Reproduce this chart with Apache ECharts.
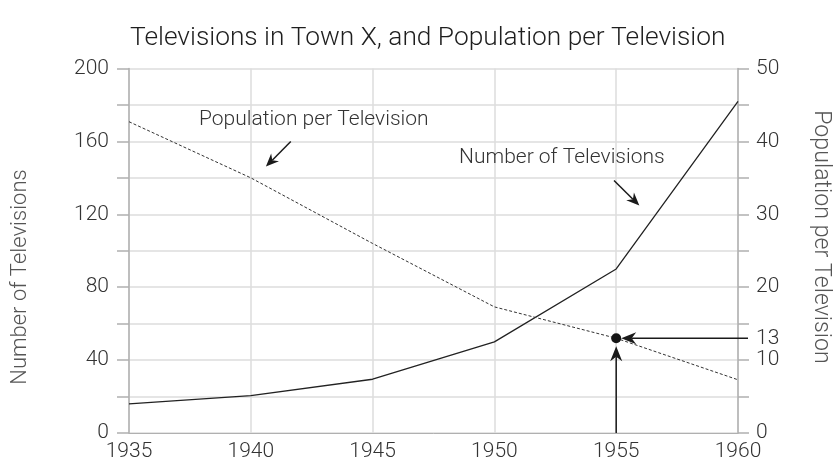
<!DOCTYPE html>
<html>
<head>
<meta charset="utf-8">
<script src="https://cdn.jsdelivr.net/npm/echarts@6/dist/echarts.min.js"></script>
<style>
  html, body { margin: 0; padding: 0; background: #fff; }
  #chart { width: 837px; height: 464px; }
</style>
</head>
<body>
<div id="chart"></div>
<script>
// Years on the horizontal axis
const years = [1935, 1940, 1945, 1950, 1955, 1960];
// Number of televisions (left axis)
const televisions = [16, 20.5, 29.5, 50, 90, 182];
// Population per television (right axis)
const popPerTv = [42.7, 35, 26, 17.3, 13, 7.3];
// Highlighted reading
const markYear = 1955;
const markValue = 13;

const FONT = 'Roboto, "Noto Sans", sans-serif';
const W = 300;
const TEXT = '#333';
const GRID = '#dcdcdc';
const AXIS = '#b0b0b0';

const chart = echarts.init(document.getElementById('chart'));

chart.setOption({
  animation: false,
  backgroundColor: '#fff',
  title: {
    text: 'Televisions in Town X, and Population per Television',
    left: 125,
    top: 20,
    textStyle: { fontFamily: FONT, fontSize: 26.3, fontWeight: W, color: '#1e1e1e' }
  },
  grid: { left: 129, right: 99, top: 68.5, bottom: 31 },
  xAxis: {
    type: 'value',
    min: 1935, max: 1960, interval: 5,
    axisLine: { show: true, lineStyle: { color: AXIS, width: 1 } },
    axisTick: { show: false },
    splitLine: { show: true, lineStyle: { color: GRID, width: 1.5 } },
    axisLabel: { fontFamily: FONT, fontSize: 21, fontWeight: W, color: TEXT, margin: 8, formatter: v => String(v) }
  },
  yAxis: [
    {
      type: 'value',
      min: 0, max: 200, interval: 20,
      axisLine: { show: true, lineStyle: { color: AXIS, width: 1.5 } },
      axisTick: { show: true, length: 12, lineStyle: { color: AXIS, width: 1.5 } },
      splitLine: { show: true, lineStyle: { color: GRID, width: 1.5 } },
      axisLabel: {
        fontFamily: FONT, fontSize: 21, fontWeight: W, color: TEXT, margin: 20,
        formatter: v => (v % 40 === 0 ? String(v) : '')
      }
    },
    {
      type: 'value',
      min: 0, max: 50, interval: 5,
      position: 'right',
      axisLine: { show: true, lineStyle: { color: AXIS, width: 1.5 } },
      axisTick: { show: true, length: 11, lineStyle: { color: AXIS, width: 1.5 } },
      splitLine: { show: false },
      axisLabel: {
        fontFamily: FONT, fontSize: 21, fontWeight: W, color: TEXT, margin: 18,
        formatter: v => (v % 10 === 0 ? String(v) : '')
      }
    }
  ],
  series: [
    {
      name: 'Number of Televisions',
      type: 'line',
      yAxisIndex: 0,
      data: years.map((y, i) => [y, televisions[i]]),
      symbol: 'none',
      lineStyle: { color: '#222', width: 1.3 },
      z: 3
    },
    {
      name: 'Population per Television',
      type: 'line',
      yAxisIndex: 1,
      data: years.map((y, i) => [y, popPerTv[i]]),
      symbol: 'none',
      lineStyle: { color: '#333', width: 1, type: [3, 2] },
      z: 3
    },
    {
      name: 'reading',
      type: 'scatter',
      yAxisIndex: 1,
      data: [[markYear, markValue]],
      symbol: 'circle',
      symbolSize: 10,
      itemStyle: { color: '#151515', opacity: 1 },
      z: 5
    }
  ]
});

// Build an arrow (shaft + notched head) between two pixel points
function arrow(x1, y1, x2, y2, opts) {
  const o = Object.assign({ len: 15, half: 6, notch: 4.5, width: 1.5, color: '#1a1a1a' }, opts || {});
  const dx = x2 - x1, dy = y2 - y1;
  const d = Math.hypot(dx, dy);
  const ux = dx / d, uy = dy / d;
  const px = -uy, py = ux;
  const bx = x2 - ux * o.len, by = y2 - uy * o.len;
  const nx = x2 - ux * (o.len - o.notch), ny = y2 - uy * (o.len - o.notch);
  return [
    { type: 'line', shape: { x1: x1, y1: y1, x2: nx, y2: ny }, style: { stroke: o.color, lineWidth: o.width }, z: 10 },
    { type: 'polygon', shape: { points: [[x2, y2], [bx + px * o.half, by + py * o.half], [nx, ny], [bx - px * o.half, by - py * o.half]] }, style: { fill: o.color }, z: 10 }
  ];
}

const pt = (x, y, axis) => chart.convertToPixel({ xAxisIndex: 0, yAxisIndex: axis }, [x, y]);

function label(text, at, size, opts) {
  const o = Object.assign({ align: 'left', color: TEXT, rotation: 0 }, opts || {});
  return {
    type: 'text', x: at[0], y: at[1], rotation: o.rotation, z: 10,
    style: {
      text: text, fontFamily: FONT, fontSize: size, fontWeight: W, fill: o.color,
      align: o.align, verticalAlign: 'middle',
      textAlign: o.align, textVerticalAlign: 'middle'
    }
  };
}

const dot = pt(markYear, markValue, 1);
const base = pt(markYear, 0, 1);
const rightEdge = pt(1960, markValue, 1);

const elements = [];
// Axis titles
elements.push(label('Number of Televisions', [20, 277], 22, { align: 'center', color: '#555', rotation: Math.PI / 2 }));
elements.push(label('Population per Television', [821, 237], 23.2, { align: 'center', color: '#555', rotation: -Math.PI / 2 }));

// Reading guides: up from the year, across from the value
elements.push(...arrow(base[0], base[1], dot[0], dot[1] + 8));
elements.push(...arrow(rightEdge[0] + 10, dot[1], dot[0] + 5, dot[1]));

// Series callouts
elements.push(label('Population per Television', pt(1937.87, 171.8, 0), 21));
const pa1 = pt(1941.64, 159.9, 0), pa2 = pt(1940.62, 146.2, 0);
elements.push(...arrow(pa1[0], pa1[1], pa2[0], pa2[1], { len: 13, half: 5.5, notch: 4 }));

elements.push(label('Number of Televisions', pt(1948.55, 151.3, 0), 21));
const ta1 = pt(1954.91, 138.5, 0), ta2 = pt(1955.95, 124.8, 0);
elements.push(...arrow(ta1[0], ta1[1], ta2[0], ta2[1], { len: 13, half: 5.5, notch: 4 }));

// Extra right-axis label for the highlighted value
elements.push(label(String(markValue), [rightEdge[0] + 18, dot[1] + 1], 21));

chart.setOption({ graphic: { elements: elements } });
</script>
</body>
</html>
